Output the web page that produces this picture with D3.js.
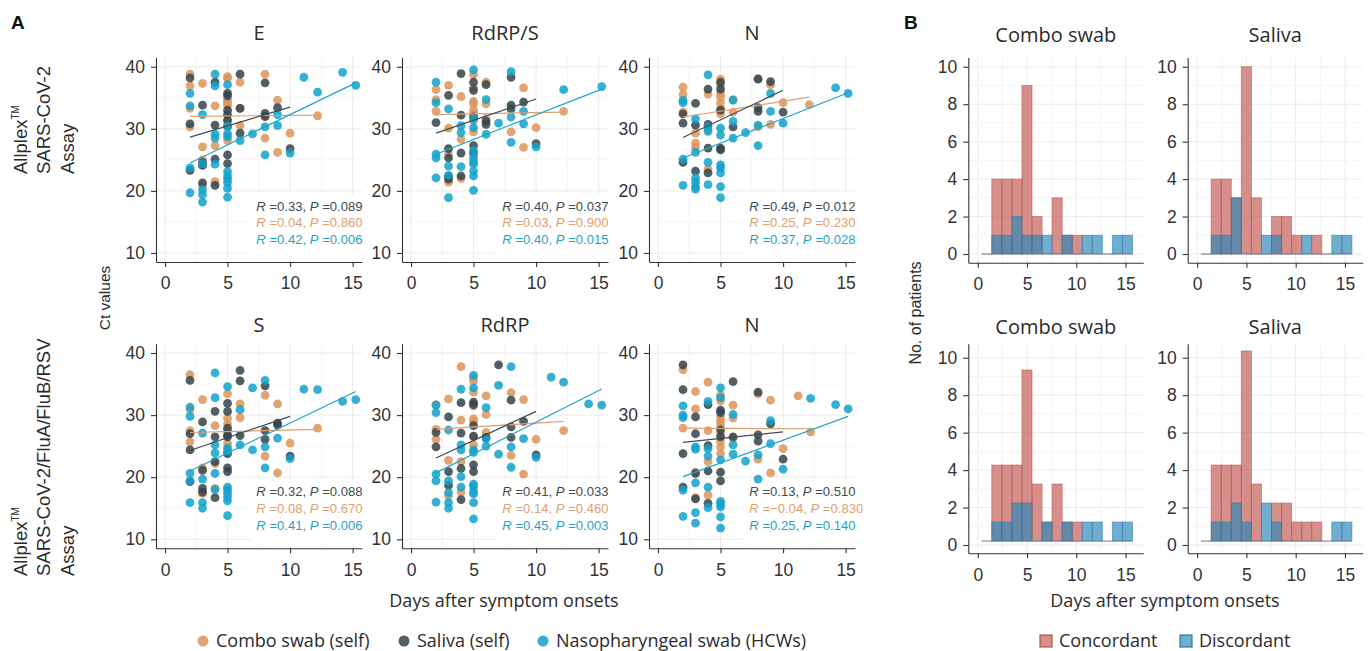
<!DOCTYPE html>
<html><head><meta charset="utf-8">
<script src="https://cdn.jsdelivr.net/npm/d3@7"></script>
<style>body{margin:0;background:#fff}svg{display:block}</style>
</head><body>
<svg id="c" width="1368" height="651"></svg>
<script>
// ---------------- DATA ----------------
const seriesNames = ["Combo swab (self)", "Saliva (self)", "Nasopharyngeal swab (HCWs)"];
const panelTitles = ["E", "RdRP/S", "N", "S", "RdRP", "N"];
const rowLabels = [["Allplex", "SARS-CoV-2", "Assay"], ["Allplex", "SARS-CoV-2/FluA/FluB/RSV", "Assay"]];
const ctTicks = [10, 20, 30, 40];
const dayTicks = [0, 5, 10, 15];
const histTicks = [0, 2, 4, 6, 8, 10];

// Panel E (Allplex SARS-CoV-2)
const E_combo = [[2,38.8],[2,36.9],[2,33.3],[2,30.3],[3,37.3],[3,27.1],[3,25.0],[3,20.9],[4,33.7],[4,27.3],[4,21.5],[5,38.4],[5,38.1],[5,34.6],[5,34.2],[5,33.8],[5,31.2],[5,28.1],[6,37.5],[6,33.3],[6,30.5],[8,38.8],[8,31.9],[8,28.5],[9,34.6],[9,26.2],[10,29.3],[12.2,32.1]];
const E_saliva = [[2,38.2],[2,30.8],[2,23.3],[3,33.8],[3,24.6],[3,24.1],[3,21.3],[4,37.5],[4,30.6],[4,25.1],[4,20.9],[5,35.7],[5,35.3],[5,33.0],[5,32.3],[5,31.4],[5,30.4],[5,25.8],[5,24.4],[6,38.8],[6,33.3],[6,29.3],[8,37.4],[8,32.5],[8,32.0],[9,33.4],[10,26.8]];
const E_np = [[2,35.7],[2,33.7],[2,23.7],[2,19.7],[3,32.3],[3,24.4],[3,20.2],[3,19.4],[3,18.2],[4,38.8],[4,36.9],[4,29.1],[4,28.5],[4,24.3],[5,37.1],[5,30.4],[5,29.2],[5,28.7],[5,23.1],[5,22.4],[5,21.9],[5,21.3],[5,20.4],[5,19.0],[6,28.1],[7,29.2],[8,30.3],[8,25.8],[9,32.3],[9,30.5],[10,26.1],[11.1,38.3],[12.2,35.9],[14.2,39.1],[15.25,37.0]];
const E_fits = [[[2,32.0],[12.2,32.2]], [[2,28.65],[10,33.5]], [[2,24.5],[15.25,37.4]]];
// stats in series order: combo, saliva, np
const E_R = ["0.04", "0.33", "0.42"];
const E_P = ["0.860", "0.089", "0.006"];

// Panel RdRP/S
const RS_combo = [[2,36.3],[2,34.7],[2,32.8],[3,37.0],[3,30.1],[3,25.9],[3,21.4],[4,35.2],[4,28.3],[4,22.0],[5,38.7],[5,36.6],[5,34.4],[5,34.0],[5,33.0],[5,32.4],[5,31.3],[5,29.5],[6,37.5],[6,34.0],[6,31.6],[8,29.5],[9,36.6],[9,27.0],[10,30.2],[12.2,32.8]];
const RS_saliva = [[2,31.0],[3,35.4],[3,26.8],[3,25.3],[3,22.3],[3,21.9],[4,38.9],[4,32.2],[4,26.1],[4,22.4],[5,37.5],[5,36.2],[5,31.9],[5,27.3],[5,26.1],[6,37.1],[6,31.2],[6,30.7],[8,38.3],[8,33.8],[8,33.2],[9,34.3],[10,27.6]];
const RS_np = [[2,37.5],[2,34.2],[2,25.9],[2,25.3],[2,22.1],[3,33.2],[3,24.0],[3,22.5],[3,18.9],[4,30.5],[4,29.4],[4,23.9],[5,39.5],[5,31.6],[5,30.2],[5,26.5],[5,25.4],[5,24.7],[5,24.3],[5,23.2],[5,22.4],[5,20.1],[6,34.7],[6,29.1],[7,30.9],[8,39.2],[8,31.9],[8,27.8],[9,32.8],[9,30.8],[10,27.1],[12.2,36.3],[15.25,36.8]];
const RS_fits = [[[2,32.3],[12.2,32.7]], [[2,29.3],[10,34.8]], [[2,25.9],[15.25,36.4]]];
const RS_R = ["0.03", "0.40", "0.40"];
const RS_P = ["0.900", "0.037", "0.015"];

// Panel N (Allplex SARS-CoV-2)
const N1_combo = [[2,36.7],[2,35.5],[2,32.7],[3,29.3],[3,27.7],[3,27.0],[4,35.6],[4,29.9],[4,23.5],[5,38.0],[5,37.1],[5,35.7],[5,35.1],[5,34.1],[5,33.2],[5,32.4],[6,34.7],[6,32.7],[8,38.1],[8,30.3],[9,37.1],[9,30.7],[10,34.2],[12.1,33.9]];
const N1_saliva = [[2,32.4],[2,30.9],[2,24.6],[3,34.1],[3,30.6],[3,23.2],[4,36.4],[4,30.7],[4,26.9],[4,22.9],[5,37.5],[5,36.4],[5,33.0],[5,26.9],[5,26.6],[6,30.3],[8,38.0],[8,33.4],[8,32.8],[9,37.6],[10,32.7]];
const N1_np = [[2,34.6],[2,34.2],[2,25.1],[2,20.9],[3,31.6],[3,26.2],[3,22.1],[3,21.4],[3,20.7],[3,20.3],[4,38.7],[4,30.3],[4,29.6],[4,24.6],[4,21.0],[5,30.1],[5,29.0],[5,24.2],[5,23.7],[5,22.9],[5,20.7],[5,18.9],[6,34.6],[6,31.2],[6,28.5],[7,29.4],[8,30.6],[8,27.3],[9,35.7],[9,32.8],[10,30.9],[14.2,36.6],[15.2,35.7]];
const N1_fits = [[[2,31.9],[12.1,35.1]], [[2,28.6],[10,36.2]], [[2,25.3],[15.2,35.8]]];
const N1_R = ["0.25", "0.49", "0.37"];
const N1_P = ["0.230", "0.012", "0.028"];

// Panel S (Allplex SARS-CoV-2/FluA/FluB/RSV)
const S_combo = [[2,36.5],[2,30.9],[2,27.5],[2,25.7],[3,32.5],[3,21.5],[3,17.4],[4,28.3],[4,22.2],[4,18.2],[5,33.4],[5,29.5],[5,28.6],[5,27.5],[5,25.4],[6,31.8],[6,29.6],[8,33.2],[8,23.4],[9,31.8],[9,20.7],[10,25.5],[12.2,27.9]];
const S_saliva = [[2,35.6],[2,27.0],[2,24.4],[2,19.3],[3,28.9],[3,21.1],[3,18.2],[3,17.6],[4,30.6],[4,26.5],[4,22.5],[4,16.7],[5,31.9],[5,30.6],[5,27.9],[5,26.8],[5,26.5],[5,23.8],[5,21.5],[5,20.9],[6,37.2],[6,35.5],[6,26.7],[8,34.7],[8,27.5],[8,26.1],[9,28.7],[9,28.4],[10,23.4]];
const S_np = [[2,31.3],[2,29.8],[2,20.6],[2,19.4],[2,15.9],[3,27.1],[3,19.7],[3,15.9],[3,15.0],[4,36.8],[4,32.8],[4,25.2],[4,23.9],[4,20.6],[4,18.0],[5,34.6],[5,24.7],[5,24.2],[5,18.4],[5,17.9],[5,17.4],[5,16.8],[5,16.2],[5,13.8],[6,30.9],[6,25.2],[7,34.4],[7,24.4],[8,35.6],[8,24.9],[8,21.5],[9,26.3],[10,23.0],[11.1,34.2],[12.2,34.1],[14.2,32.2],[15.25,32.5]];
const S_fits = [[[2,27.2],[12.2,27.7]], [[2,24.3],[10,29.8]], [[2,21.0],[15.25,33.8]]];
const S_R = ["0.08", "0.32", "0.41"];
const S_P = ["0.670", "0.088", "0.006"];

// Panel RdRP
const RD_combo = [[2,31.7],[2,27.7],[2,26.1],[3,32.6],[3,22.7],[3,17.0],[4,37.8],[4,29.2],[4,22.5],[4,17.6],[5,36.0],[5,35.5],[5,33.7],[5,31.5],[5,29.4],[5,29.0],[5,26.5],[5,25.2],[6,33.1],[6,30.1],[6,27.2],[8,33.6],[8,23.5],[9,32.5],[9,20.5],[10,26.1],[12.2,27.5]];
const RD_saliva = [[2,27.2],[2,24.9],[3,29.7],[3,20.9],[3,18.7],[4,32.0],[4,27.1],[4,21.4],[4,16.4],[5,32.1],[5,31.7],[5,28.3],[5,26.6],[5,22.0],[5,20.9],[6,26.4],[7,38.1],[8,32.4],[8,28.1],[8,26.4],[9,29.0],[10,23.6]];
const RD_np = [[2,31.6],[2,30.4],[2,20.5],[2,19.4],[2,16.0],[3,27.6],[3,19.4],[3,17.5],[3,15.9],[3,15.0],[4,34.2],[4,25.2],[4,24.4],[4,20.1],[4,18.4],[5,36.4],[5,34.4],[5,24.4],[5,24.0],[5,18.9],[5,18.5],[5,17.7],[5,17.3],[5,15.9],[5,13.3],[6,31.2],[6,26.2],[6,25.0],[7,34.8],[7,23.7],[8,37.8],[8,24.9],[8,21.6],[9,26.2],[10,23.2],[11.2,36.1],[12.2,35.3],[14.2,31.8],[15.25,31.6]];
const RD_fits = [[[2,27.7],[12.2,29.0]], [[2,23.1],[10,30.6]], [[2,20.7],[15.25,34.2]]];
const RD_R = ["0.14", "0.41", "0.45"];
const RD_P = ["0.460", "0.033", "0.003"];

// Panel N (Allplex SARS-CoV-2/FluA/FluB/RSV)
const N2_combo = [[2,37.3],[2,27.9],[3,33.8],[3,31.0],[3,20.8],[3,16.7],[4,35.3],[4,27.5],[4,22.5],[4,17.1],[5,33.2],[5,32.3],[5,29.7],[5,29.0],[5,28.4],[5,27.0],[5,25.7],[5,24.9],[5,23.8],[6,31.6],[6,29.5],[6,26.3],[8,33.4],[8,22.9],[9,32.4],[9,20.7],[10,24.6],[11.2,33.1],[12.2,27.3]];
const N2_saliva = [[2,38.1],[2,34.1],[2,23.8],[2,18.4],[3,29.7],[3,27.0],[3,20.6],[3,16.5],[4,31.7],[4,25.1],[4,21.0],[4,15.8],[5,30.8],[5,30.4],[5,27.6],[5,26.5],[5,20.8],[5,19.4],[6,35.4],[6,26.5],[8,33.7],[8,26.8],[8,25.8],[9,28.6],[10,22.9]];
const N2_np = [[2,31.5],[2,30.0],[2,29.6],[2,17.9],[2,13.7],[3,24.9],[3,24.5],[3,19.1],[3,14.3],[3,12.6],[4,32.2],[4,24.6],[4,23.4],[4,18.4],[4,15.1],[5,34.4],[5,32.8],[5,22.8],[5,16.1],[5,15.7],[5,15.2],[5,13.6],[5,11.8],[6,30.1],[6,25.2],[6,23.7],[7,22.6],[8,23.6],[8,19.7],[9,29.1],[9,25.4],[10,21.3],[12.2,32.7],[14.2,31.7],[15.2,31.0]];
const N2_fits = [[[2,27.9],[12.2,27.8]], [[2,25.6],[10,27.3]], [[2,20.1],[15.2,29.8]]];
const N2_R = ["\u22120.04", "0.13", "0.25"];
const N2_P = ["0.830", "0.510", "0.140"];

// Histograms (panel B): counts per day bin (days 1..15)
const histDays = [1,2,3,4,5,6,7,8,9,10,11,12,13,14,15];
const histTitles = ["Combo swab", "Saliva", "Combo swab", "Saliva"];
const histSeries = ["Concordant", "Discordant"];
const H1_combo_conc = [0,4,4,4,9,2,0,3,1,1,0,0,0,0,0];
const H1_combo_disc = [0,1,1,2,1,1,1,0,1,0,1,1,0,1,1];
const H1_saliva_conc = [0,4,4,3,10,3,0,2,2,1,0,1,0,0,0];
const H1_saliva_disc = [0,1,1,3,0,0,1,1,0,0,1,0,0,1,1];
const H2_combo_conc = [0,4,4,4,9,3,1,3,1,1,0,0,0,0,0];
const H2_combo_disc = [0,1,1,2,2,0,1,0,1,0,1,1,0,1,1];
const H2_saliva_conc = [0,4,4,4,10,3,0,2,2,1,1,1,0,0,0];
const H2_saliva_disc = [0,1,1,2,1,0,2,1,0,0,0,0,0,1,1];
const binWidth = 1.02, binStart = 0.405;

// ---------------- STYLE / LAYOUT ----------------
const ptColors = ["#DC955C", "#34444B", "#12A2CB"];
const lineColors = ["#E0A06E", "#3E4C52", "#1CA5CC"];
const statOrder = [1, 0, 2]; // text line order: saliva, combo, np
const histFill = ["#C35A52", "#2E86B8"];
const histStroke = ["#B8524A", "#2A78A8"];
const FT = "'Liberation Sans', Arial, sans-serif";
const FU = "'Open Sans', 'Noto Sans', sans-serif";
const txt = "#2b2b2b";
const gridMajor = "#EBEBEB", gridMinor = "#F5F5F5";

const svg = d3.select("#c");
svg.append("rect").attr("width",1368).attr("height",651).attr("fill","#fff");

const sCols = [[156,362],[402,608],[649,855]];
const sRows = [[262,57.4],[548.3,343.7]];
const sPanels = [
  {t:0, d:[E_combo,E_saliva,E_np], f:E_fits, R:E_R, P:E_P},
  {t:1, d:[RS_combo,RS_saliva,RS_np], f:RS_fits, R:RS_R, P:RS_P},
  {t:2, d:[N1_combo,N1_saliva,N1_np], f:N1_fits, R:N1_R, P:N1_P},
  {t:3, d:[S_combo,S_saliva,S_np], f:S_fits, R:S_R, P:S_P},
  {t:4, d:[RD_combo,RD_saliva,RD_np], f:RD_fits, R:RD_R, P:RD_P},
  {t:5, d:[N2_combo,N2_saliva,N2_np], f:N2_fits, R:N2_R, P:N2_P}
];
const statY = [[17.6,14.9,12.2],[17.7,15.0,12.3]];

function styleAxis(g){
  g.select(".domain").attr("stroke","#333").attr("stroke-width",1.1);
  g.selectAll(".tick line").attr("stroke","#333").attr("stroke-width",1.1);
  g.selectAll(".tick text").attr("font-family",FT).attr("font-size",17.5).attr("fill","#333");
}

sPanels.forEach((p,i)=>{
  const row = Math.floor(i/3), col = i%3;
  const x = d3.scaleLinear().domain([-0.72,15.75]).range(sCols[col]);
  const y = d3.scaleLinear().domain([8.55,41.5]).range(sRows[row]);
  const g = svg.append("g");
  const gx = d3.range(0,15.01,2.5), gy = d3.range(10,40.01,5);
  g.selectAll(null).data(gx).join("line")
    .attr("x1",d=>x(d)).attr("x2",d=>x(d)).attr("y1",y.range()[0]).attr("y2",y.range()[1])
    .attr("stroke",d=>d%5===0?gridMajor:gridMinor).attr("stroke-width",1);
  g.selectAll(null).data(gy).join("line")
    .attr("y1",d=>y(d)).attr("y2",d=>y(d)).attr("x1",x.range()[0]).attr("x2",x.range()[1])
    .attr("stroke",d=>d%10===0?gridMajor:gridMinor).attr("stroke-width",1);
  const tg = g.append("g");
  const tx = x(7.3);
  const texts = statOrder.map((sIdx,k)=>{
    const t = tg.append("text").attr("x",tx).attr("y",y(statY[row][k])).attr("dy","0.36em")
      .attr("font-family",FT).attr("font-size",13.1).attr("fill",lineColors[sIdx]);
    t.append("tspan").attr("font-style","italic").text("R");
    t.append("tspan").text(" =" + p.R[sIdx] + ", ");
    t.append("tspan").attr("font-style","italic").text("P");
    t.append("tspan").text(" =" + p.P[sIdx]);
    return t;
  });
  p.d.forEach((arr,s)=>{
    g.selectAll(null).data(arr).join("circle")
      .attr("cx",d=>x(d[0])).attr("cy",d=>y(d[1])).attr("r",4.4)
      .attr("fill",ptColors[s]).attr("fill-opacity",0.85);
  });
  const ln = d3.line().x(d=>x(d[0])).y(d=>y(d[1]));
  p.f.forEach((f,s)=>{
    g.append("path").attr("d",ln(f)).attr("fill","none").attr("stroke",lineColors[s]).attr("stroke-width",1.2);
  });
  svg.append("g").attr("transform",`translate(0,${y.range()[0]})`)
    .call(d3.axisBottom(x).tickValues(dayTicks).tickSize(5).tickPadding(10).tickSizeOuter(0)).call(styleAxis);
  svg.append("g").attr("transform",`translate(${x.range()[0]},0)`)
    .call(d3.axisLeft(y).tickValues(ctTicks).tickSize(5).tickPadding(6).tickSizeOuter(0)).call(styleAxis);
  svg.append("text").attr("x",(x.range()[0]+x.range()[1])/2).attr("y",row===0?40:332)
    .attr("text-anchor","middle").attr("font-family",FU).attr("font-size",20).attr("fill",txt)
    .text(panelTitles[p.t]);
  let bb = null;
  texts.forEach(t=>{const b=t.node().getBBox(); bb = bb? {x0:Math.min(bb.x0,b.x),y0:Math.min(bb.y0,b.y),x1:Math.max(bb.x1,b.x+b.width),y1:Math.max(bb.y1,b.y+b.height)} : {x0:b.x,y0:b.y,x1:b.x+b.width,y1:b.y+b.height};});
  tg.insert("rect",":first-child").attr("x",bb.x0-6).attr("y",bb.y0-4)
    .attr("width",Math.max(x.range()[1],bb.x1)-bb.x0+6).attr("height",y.range()[0]-bb.y0+2).attr("fill","#fff");
});

// ---------------- HISTOGRAMS ----------------
const hCols = [[968.3,1143.3],[1187.7,1362.7]];
const hRows = [{r:[262.7,57.4], d:[-0.464,10.5], base:0, k:1}, {r:[553.3,343.7], d:[-0.443,10.75], base:0.21, k:1.015}];
const hPanels = [
  [H1_combo_conc, H1_combo_disc], [H1_saliva_conc, H1_saliva_disc],
  [H2_combo_conc, H2_combo_disc], [H2_saliva_conc, H2_saliva_disc]
];
hPanels.forEach((pair,i)=>{
  const row = Math.floor(i/2), col = i%2;
  const R = hRows[row];
  const x = d3.scaleLinear().domain([-0.96,16.8]).range(hCols[col]);
  const y = d3.scaleLinear().domain(R.d).range(R.r);
  const g = svg.append("g");
  g.selectAll(null).data(d3.range(0,15.01,2.5)).join("line")
    .attr("x1",d=>x(d)).attr("x2",d=>x(d)).attr("y1",R.r[0]).attr("y2",R.r[1])
    .attr("stroke",d=>d%5===0?gridMajor:gridMinor);
  g.selectAll(null).data(d3.range(0,10.01,1)).join("line")
    .attr("y1",d=>y(d)).attr("y2",d=>y(d)).attr("x1",hCols[col][0]).attr("x2",hCols[col][1])
    .attr("stroke",d=>d%2===0?gridMajor:gridMinor);
  pair.forEach((counts,s)=>{
    const bars = histDays.map((d,j)=>({lo:binStart+(d-1)*binWidth, hi:binStart+d*binWidth, c:counts[j]}));
    g.selectAll(null).data(bars.filter(b=>b.c>0)).join("rect")
      .attr("x",b=>x(b.lo)).attr("width",b=>x(b.hi)-x(b.lo))
      .attr("y",b=>y(R.base+b.c*R.k)).attr("height",b=>y(R.base)-y(R.base+b.c*R.k))
      .attr("fill",histFill[s]).attr("fill-opacity",0.68)
      .attr("stroke",histStroke[s]).attr("stroke-opacity",0.55).attr("stroke-width",1);
    g.selectAll(null).data(bars.filter(b=>b.c===0)).join("line")
      .attr("x1",b=>x(b.lo)).attr("x2",b=>x(b.hi)).attr("y1",y(R.base)).attr("y2",y(R.base))
      .attr("stroke",histStroke[s]).attr("stroke-opacity",0.45).attr("stroke-width",1.2);
  });
  svg.append("g").attr("transform",`translate(0,${R.r[0]})`)
    .call(d3.axisBottom(x).tickValues(dayTicks).tickSize(5).tickPadding(10).tickSizeOuter(0)).call(styleAxis);
  svg.append("g").attr("transform",`translate(${hCols[col][0]},0)`)
    .call(d3.axisLeft(y).tickValues(histTicks).tickSize(5).tickPadding(6).tickSizeOuter(0)).call(styleAxis);
  svg.append("text").attr("x",(hCols[col][0]+hCols[col][1])/2).attr("y",row===0?42:334)
    .attr("text-anchor","middle").attr("font-family",FU).attr("font-size",20).attr("fill",txt)
    .text(histTitles[i]);
});

// ---------------- LABELS ----------------
svg.append("text").attr("x",11).attr("y",29).attr("font-family",FT).attr("font-weight","bold").attr("font-size",19).attr("fill","#111").text("A");
svg.append("text").attr("x",904).attr("y",29).attr("font-family",FT).attr("font-weight","bold").attr("font-size",19).attr("fill","#111").text("B");

const rowStart = [174, 576];
rowLabels.forEach((lines,r)=>{
  lines.forEach((l,k)=>{
    const t = svg.append("text").attr("transform",`translate(${27+k*23.3},${rowStart[r]}) rotate(-90)`)
      .attr("font-family",FT).attr("font-size",18.5).attr("fill",txt);
    t.append("tspan").text(l);
    if(k===0){ t.append("tspan").attr("font-size",10).attr("dy",-8).text("TM"); }
  });
});
svg.append("text").attr("transform","translate(110,298) rotate(-90)").attr("text-anchor","middle")
  .attr("font-family",FT).attr("font-size",15.5).attr("fill",txt).text("Ct values");
svg.append("text").attr("transform","translate(921,313) rotate(-90)").attr("text-anchor","middle")
  .attr("font-family",FT).attr("font-size",16).attr("fill",txt).text("No. of patients");

svg.append("text").attr("x",504).attr("y",607).attr("text-anchor","middle").attr("font-family",FU)
  .attr("font-size",18).attr("fill",txt).text("Days after symptom onsets");
svg.append("text").attr("x",1165).attr("y",607).attr("text-anchor","middle").attr("font-family",FU)
  .attr("font-size",18).attr("fill",txt).text("Days after symptom onsets");

const legX = [203, 404, 543];
seriesNames.forEach((n,s)=>{
  svg.append("circle").attr("cx",legX[s]).attr("cy",641).attr("r",5.5).attr("fill",ptColors[s]).attr("fill-opacity",0.85);
  svg.append("text").attr("x",legX[s]+13).attr("y",647).attr("font-family",FU).attr("font-size",18).attr("fill",txt).text(n);
});
const legBX = [1040, 1180];
histSeries.forEach((n,s)=>{
  svg.append("rect").attr("x",legBX[s]).attr("y",635).attr("width",12).attr("height",12)
    .attr("fill",histFill[s]).attr("fill-opacity",0.68).attr("stroke",histStroke[s]).attr("stroke-width",1.2);
  svg.append("text").attr("x",legBX[s]+19).attr("y",647).attr("font-family",FU).attr("font-size",18).attr("fill",txt).text(n);
});
</script>
</body></html>
